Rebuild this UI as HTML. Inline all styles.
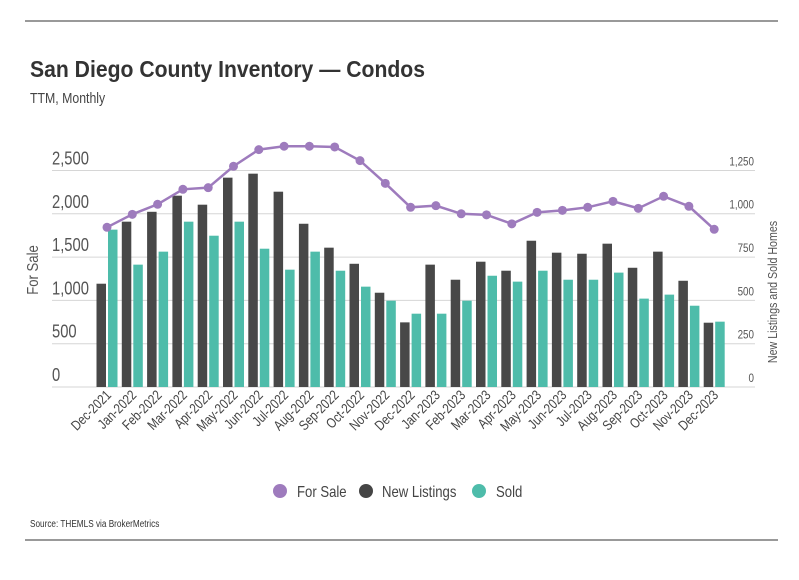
<!DOCTYPE html>
<html><head><meta charset="utf-8"><style>
body{margin:0;background:#fff;}
svg text{font-family:"Liberation Sans Narrow","Liberation Sans",sans-serif;}
</style></head><body>
<svg id="svg" width="799" height="575" viewBox="0 0 799 575">
<line x1="25" y1="21" x2="778" y2="21" stroke="#333" stroke-width="1"/>
<line x1="25" y1="540" x2="778" y2="540" stroke="#333" stroke-width="1"/>
<text x="30" y="77" font-size="23" font-weight="bold" fill="#333" data-f="0.92">San Diego County Inventory — Condos</text>
<text x="30" y="103" font-size="15" fill="#444">TTM, Monthly</text>
<g id="grid"></g><g id="bars"></g><g id="line"></g><g id="labels"></g>
<text transform="translate(38,270) rotate(-90)" text-anchor="middle" font-size="16" fill="#555">For Sale</text>
<text transform="translate(777,292) rotate(-90)" text-anchor="middle" font-size="13" fill="#555">New Listings and Sold Homes</text>
<g>
<g><circle cx="280" cy="491" r="7" fill="#9e7bbd"/><text x="297" y="497" font-size="16" fill="#444">For Sale</text></g>
<g><circle cx="366" cy="491" r="7" fill="#454545"/><text x="382" y="497" font-size="16" fill="#444">New Listings</text></g>
<g><circle cx="479" cy="491" r="7" fill="#4ebcaa"/><text x="496" y="497" font-size="16" fill="#444">Sold</text></g>
</g>
<text x="30" y="527" font-size="10" fill="#333">Source:  THEMLS via BrokerMetrics</text>
</svg>
<script>
const months=["Dec-2021","Jan-2022","Feb-2022","Mar-2022","Apr-2022","May-2022","Jun-2022","Jul-2022","Aug-2022","Sep-2022","Oct-2022","Nov-2022","Dec-2022","Jan-2023","Feb-2023","Mar-2023","Apr-2023","May-2023","Jun-2023","Jul-2023","Aug-2023","Sep-2023","Oct-2023","Nov-2023","Dec-2023"];
const forSale=[1844,1994,2110,2283,2302,2549,2741,2780,2780,2772,2614,2352,2075,2094,2000,1988,1884,2017,2040,2075,2144,2063,2202,2087,1821];
const newListings=[596,954,1011,1104,1052,1208,1231,1127,942,804,711,544,373,706,619,723,671,844,775,769,827,688,781,613,371];
const sold=[908,706,781,954,873,954,798,677,781,671,579,498,423,423,498,642,608,671,619,619,660,510,533,469,377];
const leftTicks=[0,500,1000,1500,2000,2500];
const rightTicks=[0,250,500,750,1000,1250];
const NS="http://www.w3.org/2000/svg";
const y0=387, yL=v=>y0-v*0.0866, yR=v=>y0-v*0.1733;
const xc=i=>107+i*25.3;
function mk(t,a,p){const e=document.createElementNS(NS,t);for(const k in a)e.setAttribute(k,a[k]);p.appendChild(e);return e;}
const grid=document.getElementById('grid'),bars=document.getElementById('bars'),line=document.getElementById('line'),labels=document.getElementById('labels');
leftTicks.forEach((v,i)=>{
 const l=mk('line',{x1:52,x2:755,y1:yL(v),y2:yL(v),stroke:'#d6d6d6','stroke-width':1},grid);
 
 
 const t=mk('text',{x:52,y:yL(v)-6,'font-size':18,fill:'#555'},labels);t.textContent=v.toLocaleString('en-US');
 
 
});
rightTicks.forEach(v=>{
 const t=mk('text',{x:754,y:yR(v)-5,'font-size':12,fill:'#555','text-anchor':'end'},labels);t.textContent=v.toLocaleString('en-US');
 
 
});
months.forEach((m,i)=>{
 const c=xc(i);
 const b1=mk('rect',{x:c-10.5,y:yR(newListings[i]),width:9.5,height:y0-yR(newListings[i]),fill:'#484848'},bars);
 
 
 const b2=mk('rect',{x:c+1,y:yR(sold[i]),width:9.5,height:y0-yR(sold[i]),fill:'#4ebcaa'},bars);
 
 
 const t=mk('text',{x:0,y:0,'font-size':14,fill:'#444','text-anchor':'end',transform:`translate(${c+5},${y0+9}) rotate(-45)`},labels);
 t.textContent=m;
 
 
});
const pts=forSale.map((v,i)=>xc(i)+','+yL(v)).join(' ');
const pl=mk('polyline',{points:pts,fill:'none',stroke:'#9e7bbd','stroke-width':2.5},line);


forSale.forEach((v,i)=>{
 const c=mk('circle',{cx:xc(i),cy:yL(v),r:4.5,fill:'#9e7bbd'},line);
 
 
});
// emulate narrow font
document.querySelectorAll('#svg text').forEach(t=>{
 const f=parseFloat(t.getAttribute('data-f')||'0.82');
 const w=t.getComputedTextLength();
 t.setAttribute('textLength',(w*f).toFixed(1));
 t.setAttribute('lengthAdjust','spacingAndGlyphs');
});
</script>
</body></html>
